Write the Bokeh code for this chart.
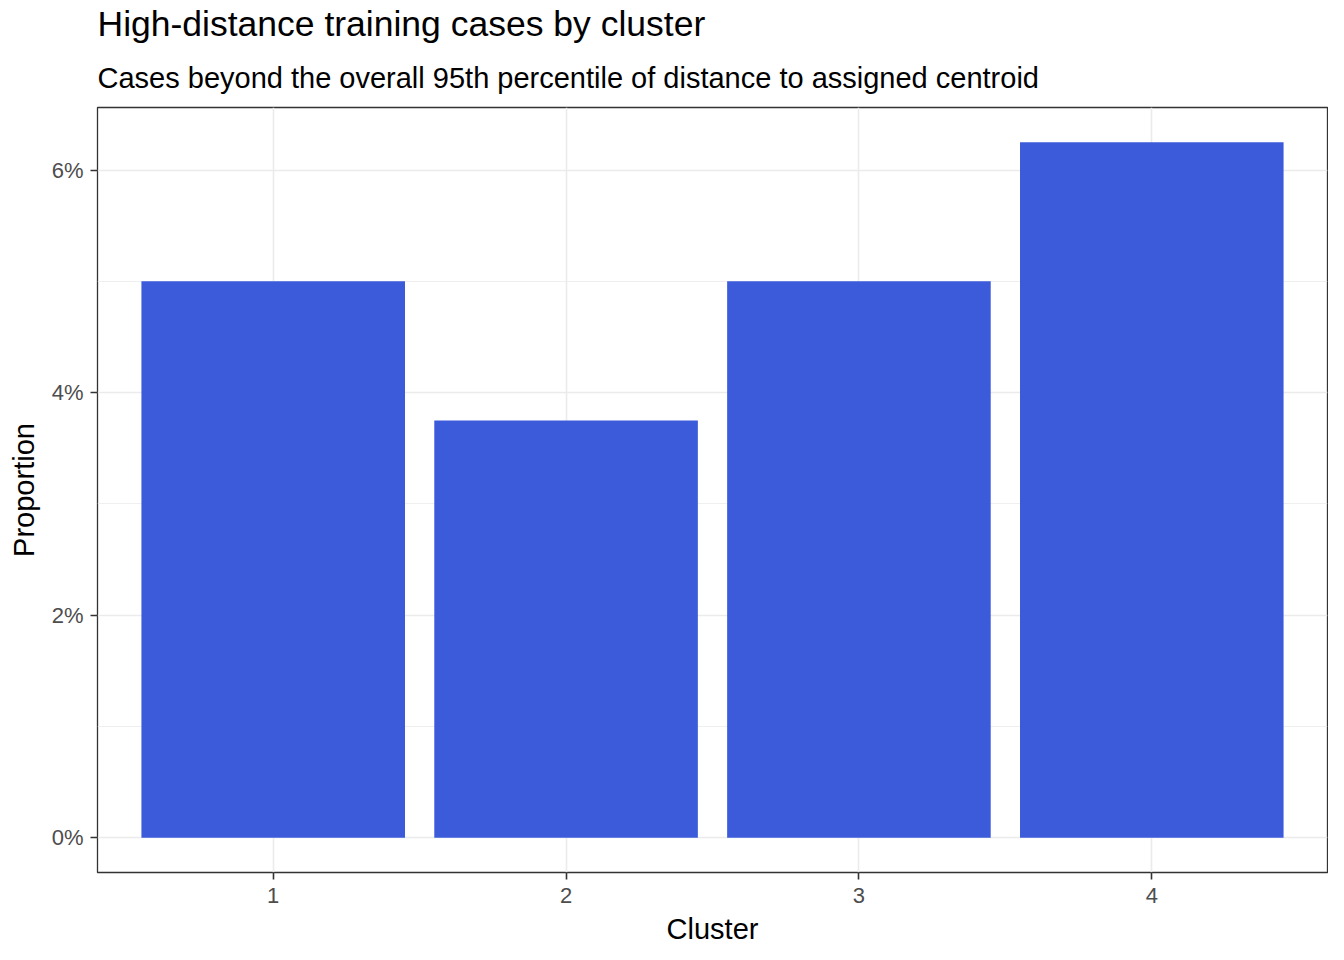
from bokeh.plotting import figure
from bokeh.models import ColumnDataSource, Range1d, FactorRange, FixedTicker, NumeralTickFormatter, Title
from bokeh.embed import file_html
from bokeh.resources import INLINE

clusters = ["1", "2", "3", "4"]
proportions = [0.05, 0.0375, 0.05, 0.0625]
y_ticks = [0.0, 0.02, 0.04, 0.06]
y_minor = [0.01, 0.03, 0.05]

title_text = "High-distance training cases by cluster"
subtitle_text = "Cases beyond the overall 95th percentile of distance to assigned centroid"
x_title = "Cluster"
y_title = "Proportion"

FONT = "Liberation Sans"
src = ColumnDataSource(dict(cluster=clusters, prop=proportions))

p = figure(x_range=FactorRange(*clusters, range_padding=0.1, range_padding_units="absolute"),
           y_range=Range1d(-0.003125, 0.065625),
           frame_width=1230, frame_height=765,
           min_border_left=97, min_border_right=1, min_border_top=103, min_border_bottom=76,
           output_backend="svg", toolbar_location=None, background_fill_color="white",
           border_fill_color="white")

p.vbar(x="cluster", top="prop", bottom=0, width=0.9, source=src,
       fill_color="#3B5BDB", line_color=None)

p.outline_line_color="#333333"
p.outline_line_width=1.3

for ax in (p.xaxis[0], p.yaxis[0]):
    ax.axis_line_color=None
    ax.major_tick_line_color="#333333"
    ax.major_tick_line_width=1.6
    ax.major_tick_out=7
    ax.major_tick_in=0
    ax.minor_tick_line_color=None
    ax.major_label_text_font=FONT
    ax.major_label_text_font_size="22px"
    ax.major_label_text_color="#4D4D4D"
    ax.axis_label_text_font=FONT
    ax.axis_label_text_font_size="29px"
    ax.axis_label_text_font_style="normal"
    ax.axis_label_text_color="black"

p.yaxis.ticker=FixedTicker(ticks=y_ticks, minor_ticks=y_minor)
p.yaxis.formatter=NumeralTickFormatter(format="0%")
p.yaxis.major_label_standoff=7
p.yaxis.axis_label=y_title
p.yaxis.axis_label_standoff=9
p.xaxis.major_label_standoff=8
p.xaxis.axis_label=x_title
p.xaxis.axis_label_standoff=7

p.xgrid.grid_line_color="#EBEBEB"
p.xgrid.grid_line_width=1.6
p.ygrid.grid_line_color="#EBEBEB"
p.ygrid.grid_line_width=1.6
p.ygrid.minor_grid_line_color="#EBEBEB"
p.ygrid.minor_grid_line_width=0.8

p.add_layout(Title(text=subtitle_text, text_font=FONT, text_font_size="29px",
                   text_font_style="normal", text_color="black", align="left", standoff=28), "above")
p.add_layout(Title(text=title_text, text_font=FONT, text_font_size="35.5px",
                   text_font_style="normal", text_color="black", align="left", standoff=3), "above")

open("out.html", "w").write(file_html(p, INLINE))
